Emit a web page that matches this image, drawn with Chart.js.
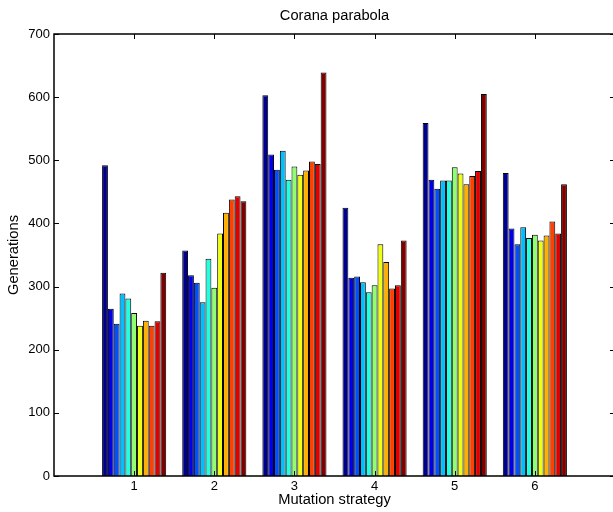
<!DOCTYPE html>
<html>
<head>
<meta charset="utf-8">
<script src="https://cdn.jsdelivr.net/npm/chart.js@4/dist/chart.umd.min.js"></script>
<style>
  html, body { margin: 0; padding: 0; overflow: hidden; background: #fff; width: 613px; height: 512px; }
  #wrap { width: 613px; height: 512px; overflow: hidden; }
  canvas { display: block; }
</style>
</head>
<body>
<div id="wrap"><canvas id="c" width="615" height="512"></canvas></div>
<script>
// Categories (mutation strategies) and tick labels
const strategies = ['1', '2', '3', '4', '5', '6'];
const yTicks = [0, 100, 200, 300, 400, 500, 600, 700];

// Generations per strategy: 11 bars per group (series 1..11)
const strat1 = [492, 265, 241, 289, 281, 258, 238, 246, 238, 245, 322];
const strat2 = [357, 318, 306, 275, 344, 298, 384, 417, 438, 443, 435];
const strat3 = [603, 509, 485, 515, 469, 490, 477, 484, 498, 494, 639];
const strat4 = [425, 314, 316, 307, 291, 302, 367, 339, 297, 302, 373];
const strat5 = [559, 469, 455, 468, 468, 489, 479, 462, 475, 483, 605];
const strat6 = [480, 392, 367, 394, 377, 382, 373, 381, 403, 384, 462];

const groups = [strat1, strat2, strat3, strat4, strat5, strat6];

// jet colormap samples for the 11 series
const seriesColors = [
  'rgb(0,0,143)', 'rgb(0,0,239)', 'rgb(0,80,255)', 'rgb(0,191,255)',
  'rgb(32,255,223)', 'rgb(143,255,112)', 'rgb(239,255,16)', 'rgb(255,175,0)',
  'rgb(255,64,0)', 'rgb(223,0,0)', 'rgb(128,0,0)'
];

// x axis spans 0..7 like the original: pad labels with empty slots
const labels = [''].concat(strategies, ['']);
const nSeries = strat1.length;
const datasets = [];
for (let s = 0; s < nSeries; s++) {
  datasets.push({
    label: 'Series ' + (s + 1),
    data: [null].concat(groups.map(g => g[s]), [null]),
    backgroundColor: seriesColors[s],
    borderColor: '#000',
    borderWidth: 1,
    categoryPercentage: 0.8,
    barPercentage: 1.0
  });
}

const FONT = "'Liberation Sans', Arial, Helvetica, sans-serif";

const framePlugin = {
  id: 'frame',
  afterDatasetsDraw(chart) {
    const { ctx, chartArea: a, scales } = chart;
    const x = scales.x, y = scales.y;
    const tl = 5;
    ctx.save();
    ctx.strokeStyle = '#000';
    ctx.lineWidth = 1.5;
    ctx.beginPath();
    ctx.rect(a.left, a.top, a.right - a.left, a.bottom - a.top);
    ctx.stroke();
    ctx.lineWidth = 1;
    ctx.beginPath();
    yTicks.forEach(v => {
      const py = Math.round(y.getPixelForValue(v)) + 0.5;
      ctx.moveTo(a.left, py); ctx.lineTo(a.left + tl, py);
      ctx.moveTo(a.right, py); ctx.lineTo(a.right - tl, py);
    });
    strategies.forEach((lab, i) => {
      const px = Math.round(x.getPixelForValue(i + 1)) + 0.5;
      ctx.moveTo(px, a.bottom); ctx.lineTo(px, a.bottom - tl);
      ctx.moveTo(px, a.top); ctx.lineTo(px, a.top + tl);
    });
    ctx.stroke();
    ctx.restore();
  }
};

new Chart(document.getElementById('c'), {
  type: 'bar',
  data: { labels, datasets },
  options: {
    responsive: false,
    animation: false,
    devicePixelRatio: 1,
    layout: { padding: 0 },
    plugins: {
      legend: { display: false },
      tooltip: { enabled: false },
      title: {
        display: true,
        fullSize: false,
        text: 'Corana parabola',
        color: '#000',
        font: { family: FONT, size: 14.7, weight: 'normal' },
        padding: { top: 6.7, bottom: 9.66 }
      }
    },
    scales: {
      x: {
        type: 'category',
        offset: false,
        grid: { display: false, drawTicks: false },
        border: { display: false },
        ticks: {
          color: '#000',
          font: { family: FONT, size: 13 },
          autoSkip: false, maxRotation: 0, minRotation: 0,
          padding: 3
        },
        title: {
          display: true,
          text: 'Mutation strategy',
          color: '#000',
          font: { family: FONT, size: 14.7 },
          padding: { top: 0, bottom: 3.2 }
        },
        afterFit(scale) {
          scale.height = 36;
          scale.paddingLeft = 0;
          scale.paddingRight = 0;
        }
      },
      y: {
        min: 0, max: 700,
        grid: { display: false, drawTicks: false },
        border: { display: false },
        ticks: {
          stepSize: 100,
          color: '#000',
          font: { family: FONT, size: 13 },
          padding: 4
        },
        title: {
          display: true,
          text: 'Generations',
          color: '#000',
          font: { family: FONT, size: 14.7 },
          padding: { top: 5.2, bottom: 0 }
        },
        afterFit(scale) { scale.width = 54; }
      }
    }
  },
  plugins: [framePlugin]
});
</script>
</body>
</html>
